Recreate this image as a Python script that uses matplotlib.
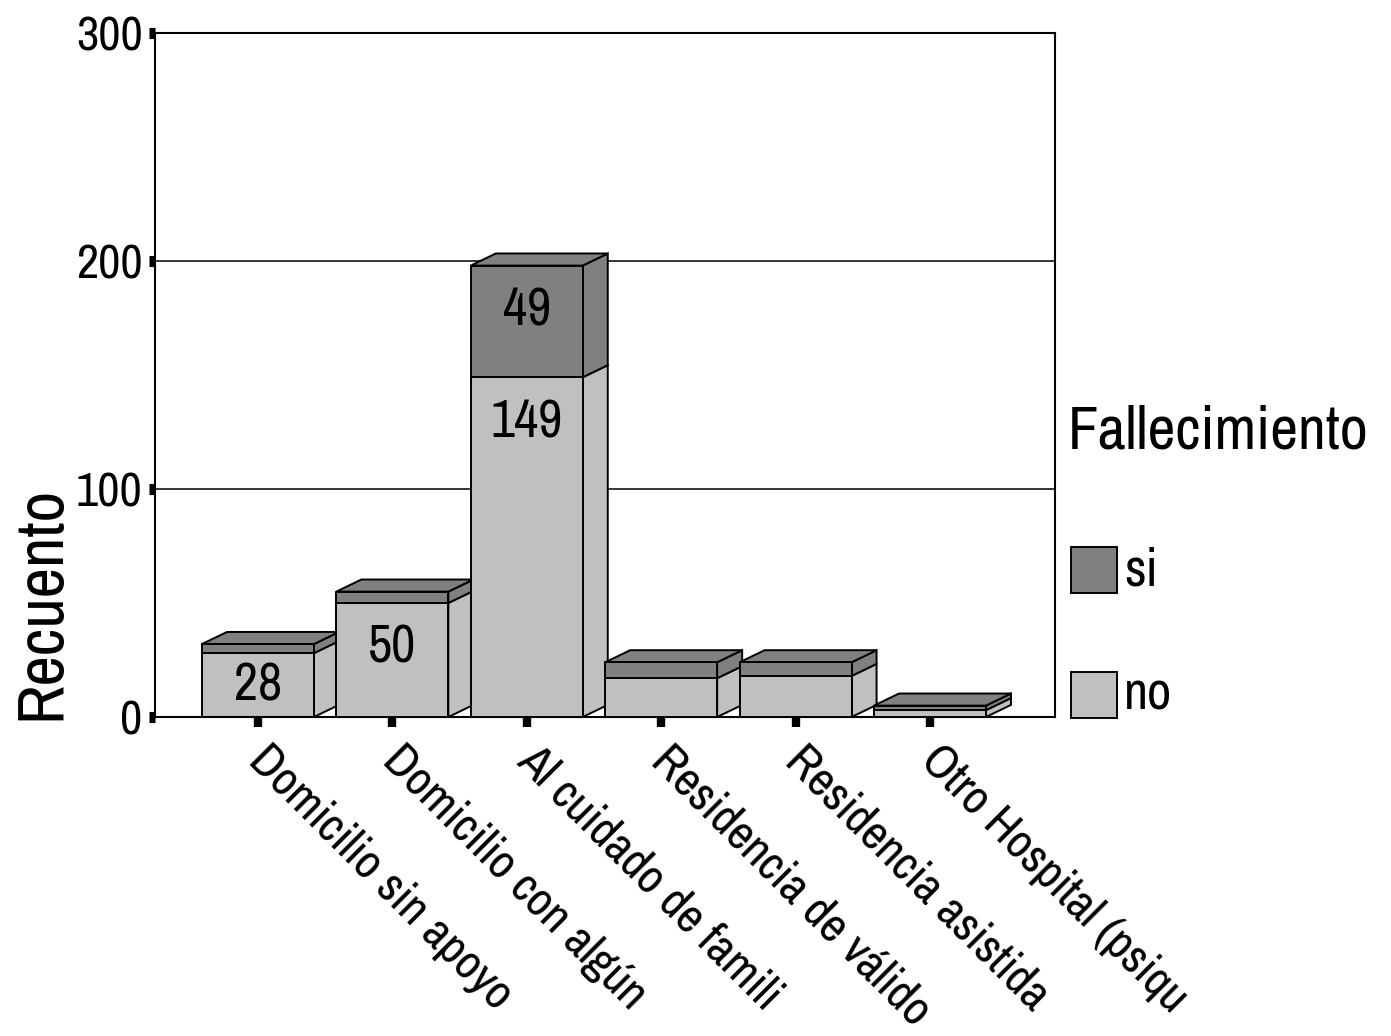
import numpy as np
import matplotlib.pyplot as plt
from matplotlib import font_manager as fm
from matplotlib.patches import Polygon, Rectangle
from matplotlib.transforms import ScaledTranslation

# data
categories = ['Domicilio sin apoyo', 'Domicilio con algún', 'Al cuidado de famili',
              'Residencia de válido', 'Residencia asistida', 'Otro Hospital (psiqu']
no_vals = [28, 50, 149, 17, 18, 3]
si_vals = [4, 5, 49, 7, 6, 2]
yticks = [0, 100, 200, 300]

col_no = '#c0c0c0'
col_si = '#808080'

# the original uses an Arial Narrow style face, take the closest one installed
avail = {f.name for f in fm.fontManager.ttflist}
narrow = 'Liberation Sans'
for cand in ['Liberation Sans Narrow', 'Arial Narrow', 'Archivo Narrow', 'PT Sans Narrow',
             'Roboto Condensed', 'Open Sans Condensed', 'Pragati Narrow', 'Fira Sans Condensed']:
    if cand in avail:
        narrow = cand
        break
plt.rcParams['font.family'] = [narrow, 'Liberation Sans', 'DejaVu Sans']

fig = plt.figure(figsize=(13.91, 10.36), dpi=100)
ax = fig.add_axes([155/1391, 1-717/1036, 900/1391, 684/1036])

x = np.arange(len(categories))
w = 0.833
dx = 0.186   # depth offset (x, data units)
dy = 5.3     # depth offset (y, data units)

ax.set_xlim(-0.766, 5.93)
ax.set_ylim(0, 300)

for g in [100, 200]:
    ax.axhline(g, color='black', lw=1.1, zorder=1)

for i in x:
    z = 2 + i
    segs = [(0, no_vals[i], col_no), (no_vals[i], no_vals[i] + si_vals[i], col_si)]
    right = i + w / 2
    left = i - w / 2
    for y0, y1, c in segs:
        side = [(right, y0), (right + dx, y0 + dy), (right + dx, y1 + dy), (right, y1)]
        ax.add_patch(Polygon(side, closed=True, fc=c, ec='black', lw=1.4, zorder=z))
    top = no_vals[i] + si_vals[i]
    topface = [(left, top), (left + dx, top + dy), (right + dx, top + dy), (right, top)]
    ax.add_patch(Polygon(topface, closed=True, fc=col_si, ec='black', lw=1.4, zorder=z))
    ax.bar(i, no_vals[i], width=w, color=col_no, edgecolor='black', lw=1.4, zorder=z + 0.5)
    ax.bar(i, si_vals[i], bottom=no_vals[i], width=w, color=col_si, edgecolor='black',
           lw=1.4, zorder=z + 0.5)
    # value labels for the segments big enough to hold them
    for y0, y1 in [(0, no_vals[i]), (no_vals[i], top)]:
        if y1 - y0 >= 25:
            yc = max(y1 - 19.7, (y0 + y1) / 2)
            ax.text(i, yc, str(y1 - y0), ha='center', va='center', fontsize=38, zorder=z + 1)

ax.set_yticks(yticks)
ax.set_yticklabels([str(t) for t in yticks], fontsize=35)
ax.set_xticks(x)
ax.set_xticklabels(categories, fontsize=35, rotation=-45, ha='left', rotation_mode='anchor')
ax.tick_params(axis='y', direction='out', length=4, width=8, pad=5)
ax.tick_params(axis='x', direction='out', length=7, width=6, pad=10)
shift = ScaledTranslation(0.13, 0.03, fig.dpi_scale_trans)
for lbl in ax.get_xticklabels():
    lbl.set_transform(lbl.get_transform() + shift)

for s in ax.spines.values():
    s.set_linewidth(1.5)

ax.set_ylabel('Recuento', fontsize=48)
ax.yaxis.set_label_coords((41 - 155) / 900, (717 - 603) / 684)
ax.yaxis.label.set_va('center')

# legend drawn by hand to match spacing
fig.text(1068/1391, 1-432/1036, 'Fallecimiento', fontsize=44, ha='left', va='center')
for name, c, yc in [('si', col_si, 570), ('no', col_no, 695)]:
    fig.add_artist(Rectangle((1071/1391, 1-(yc+23)/1036), 46/1391, 46/1036,
                             transform=fig.transFigure, fc=c, ec='black', lw=1.4))
    fig.text(1124/1391, 1-yc/1036, name, fontsize=38, ha='left', va='center')

fig.savefig('out.png', dpi=100)
